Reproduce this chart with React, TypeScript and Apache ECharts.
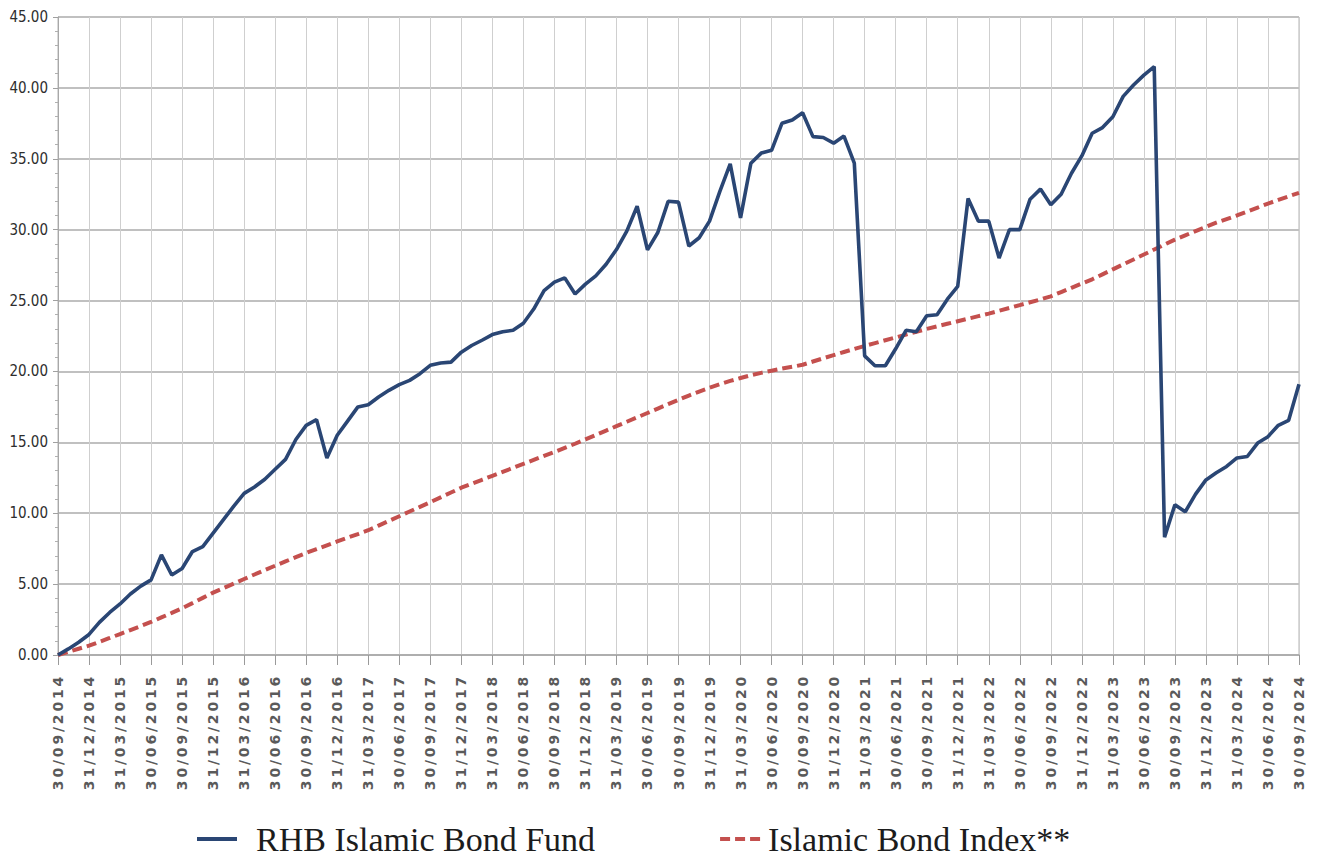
import React, { useEffect, useRef } from "react";
import * as echarts from "echarts";

const quarterLabels: string[] = [
  "30/09/2014", "31/12/2014", "31/03/2015", "30/06/2015", "30/09/2015", "31/12/2015",
  "31/03/2016", "30/06/2016", "30/09/2016", "31/12/2016", "31/03/2017", "30/06/2017",
  "30/09/2017", "31/12/2017", "31/03/2018", "30/06/2018", "30/09/2018", "31/12/2018",
  "31/03/2019", "30/06/2019", "30/09/2019", "31/12/2019", "31/03/2020", "30/06/2020",
  "30/09/2020", "31/12/2020", "31/03/2021", "30/06/2021", "30/09/2021", "31/12/2021",
  "31/03/2022", "30/06/2022", "30/09/2022", "31/12/2022", "31/03/2023", "30/06/2023",
  "30/09/2023", "31/12/2023", "31/03/2024", "30/06/2024", "30/09/2024",
];

const seriesNames: string[] = ["RHB Islamic Bond Fund", "Islamic Bond Index**"];

// monthly cumulative returns (%), Sep 2014 .. Sep 2024
const fundValues: number[] = [
  0.0, 0.43, 0.9, 1.45, 2.3, 3.0, 3.6, 4.3, 4.86, 5.3,
  7.06, 5.64, 6.1, 7.3, 7.65, 8.6, 9.55, 10.5, 11.4, 11.85,
  12.4, 13.1, 13.8, 15.2, 16.2, 16.6, 13.9, 15.5, 16.5, 17.5,
  17.65, 18.2, 18.67, 19.07, 19.37, 19.84, 20.43, 20.6, 20.66, 21.36,
  21.83, 22.2, 22.6, 22.8, 22.9, 23.4, 24.4, 25.7, 26.3, 26.6,
  25.46, 26.16, 26.74, 27.56, 28.6, 29.9, 31.65, 28.57, 29.8, 32.0,
  31.94, 28.85, 29.43, 30.6, 32.7, 34.64, 30.83, 34.69, 35.4, 35.6,
  37.5, 37.73, 38.25, 36.56, 36.5, 36.1, 36.6, 34.7, 21.1, 20.4,
  20.4, 21.6, 22.9, 22.8, 23.93, 24.0, 25.1, 26.0, 32.2, 30.6,
  30.6, 28.0, 30.0, 30.0, 32.15, 32.86, 31.76, 32.5, 33.98, 35.2,
  36.8, 37.2, 37.96, 39.4, 40.2, 40.9, 41.5, 8.3, 10.6, 10.1,
  11.35, 12.35, 12.85, 13.3, 13.9, 14.0, 14.95, 15.4, 16.2, 16.55,
  19.1,
];

const indexValues: number[] = [
  0.0, 0.22, 0.44, 0.66, 0.93, 1.2, 1.48, 1.76, 2.04, 2.33,
  2.65, 2.97, 3.3, 3.66, 4.03, 4.4, 4.72, 5.04, 5.36, 5.68,
  5.99, 6.3, 6.6, 6.9, 7.2, 7.47, 7.74, 8.01, 8.27, 8.53,
  8.8, 9.13, 9.46, 9.79, 10.12, 10.45, 10.78, 11.12, 11.46, 11.8,
  12.08, 12.36, 12.64, 12.92, 13.2, 13.48, 13.76, 14.04, 14.32, 14.61,
  14.9, 15.21, 15.52, 15.83, 16.14, 16.45, 16.76, 17.07, 17.38, 17.69,
  18.0, 18.3, 18.58, 18.85, 19.1, 19.33, 19.54, 19.73, 19.9, 20.05,
  20.2, 20.33, 20.47, 20.7, 20.93, 21.15, 21.37, 21.59, 21.8, 22.0,
  22.2, 22.4, 22.6, 22.8, 23.0, 23.18, 23.36, 23.54, 23.72, 23.9,
  24.08, 24.28, 24.48, 24.68, 24.88, 25.08, 25.3, 25.6, 25.9, 26.2,
  26.5, 26.85, 27.2, 27.55, 27.9, 28.25, 28.6, 28.95, 29.3, 29.6,
  29.9, 30.2, 30.5, 30.75, 31.0, 31.28, 31.56, 31.84, 32.1, 32.35,
  32.6,
];

const solidIcon = "path://M0,0H40V4H0Z";
const dashIcon = "path://M0,0H10V4H0Z M15,0H25V4H15Z M30,0H40V4H30Z";

export default function App() {
  const ref = useRef<HTMLDivElement>(null);

  useEffect(() => {
    if (!ref.current) return;
    const chart = echarts.init(ref.current, null, { renderer: "svg" });
    const monthsPerQuarter = 3;
    chart.setOption({
      animation: false,
      backgroundColor: "#ffffff",
      grid: {
        left: 58,
        right: 21,
        top: 17,
        bottom: 202,
        show: true,
        borderColor: "#b4b4b4",
        borderWidth: 1,
      },
      legend: {
        top: 822,
        left: 197,
        padding: 0,
        itemWidth: 42,
        itemHeight: 4,
        itemGap: 125,
        textStyle: {
          fontFamily: "Liberation Serif",
          fontSize: 34,
          lineHeight: 34,
          color: "#1c1c1c",
          padding: [0, 0, 0, 13],
        },
        data: [
          { name: seriesNames[0], icon: solidIcon },
          { name: seriesNames[1], icon: dashIcon, textStyle: { padding: [0, 0, 0, 2] } },
        ],
      },
      xAxis: {
        type: "value",
        min: 0,
        max: (quarterLabels.length - 1) * monthsPerQuarter,
        interval: monthsPerQuarter,
        axisLine: { show: true, lineStyle: { color: "#a8a8a8", width: 1.5 } },
        axisTick: { show: true, length: 10, lineStyle: { color: "#9a9a9a" } },
        splitLine: { show: true, lineStyle: { color: "#cfcfcf", width: 1 } },
        axisLabel: {
          rotate: 90,
          margin: 19,
          fontFamily: "Verdana, 'DejaVu Sans'",
          fontWeight: "bold",
          fontSize: 14,
          color: "#5a5a5a",
          formatter: (v: number) => quarterLabels[Math.round(v / monthsPerQuarter)] ?? "",
        },
      },
      yAxis: {
        type: "value",
        min: 0,
        max: 45,
        interval: 5,
        axisLine: { show: true, lineStyle: { color: "#a8a8a8" } },
        axisTick: { show: true, length: 5, lineStyle: { color: "#a0a0a0" } },
        minorTick: { show: true, splitNumber: 5, length: 3, lineStyle: { color: "#b0b0b0" } },
        splitLine: { show: true, lineStyle: { color: "#c0c0c0", width: 1.8 } },
        axisLabel: {
          margin: 10,
          fontFamily: "'DejaVu Sans Condensed', 'DejaVu Sans'",
          fontSize: 15,
          color: "#2e2e2e",
          formatter: (v: number) => v.toFixed(2),
        },
      },
      series: [
        {
          name: seriesNames[0],
          type: "line",
          symbol: "none",
          data: fundValues.map((v, i) => [i, v]),
          lineStyle: { color: "#2a4674", width: 3.6 },
          itemStyle: { color: "#2a4674" },
          z: 3,
        },
        {
          name: seriesNames[1],
          type: "line",
          symbol: "none",
          data: indexValues.map((v, i) => [i, v]),
          lineStyle: { color: "#c4504e", width: 4, type: [10, 5] },
          itemStyle: { color: "#c4504e" },
          z: 2,
        },
      ],
    });
    return () => chart.dispose();
  }, []);

  return (
    <div style={{ position: "fixed", left: 0, top: 0, width: 1320, height: 857, background: "#fff" }}>
      <style>{`text[style*="Verdana"]{letter-spacing:2.8px}`}</style>
      <div ref={ref} style={{ width: 1320, height: 857 }} />
    </div>
  );
}
